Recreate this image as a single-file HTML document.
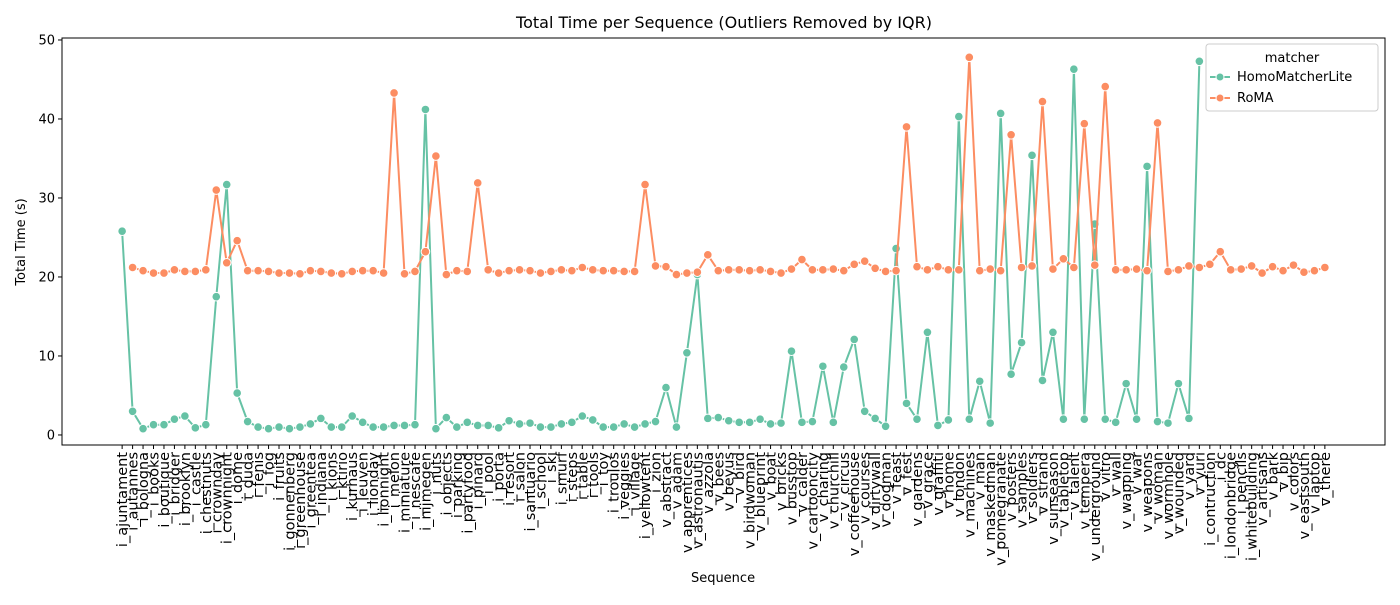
<!DOCTYPE html>
<html><head><meta charset="utf-8"><style>
body{margin:0;background:#fff;}
svg text{font-family:"DejaVu Sans","Liberation Sans",sans-serif;fill:#000;}
</style></head><body>
<svg id="chart" width="1400" height="600" xmlns="http://www.w3.org/2000/svg">
<rect width="1400" height="600" fill="#fff"/>
<text x="724" y="28" font-size="16" text-anchor="middle">Total Time per Sequence (Outliers Removed by IQR)</text>
<text x="723" y="582" font-size="13" text-anchor="middle">Sequence</text>
<text x="0" y="0" font-size="13" text-anchor="middle" transform="translate(25,242) rotate(-90)">Total Time (s)</text>
<g id="grid"></g>
<g id="series"></g>
<rect x="62" y="38" width="1323" height="407" fill="none" stroke="#000" stroke-width="1"/>
<g>
<rect x="1206" y="44" width="172" height="67" rx="3" fill="#fff" fill-opacity="0.8" stroke="#ccc"/>
<text x="1292" y="62" font-size="13" text-anchor="middle">matcher</text>
<g>
<line x1="1210" y1="77" x2="1230" y2="77" stroke="#66c2a5" stroke-width="2"/>
<circle cx="1220" cy="77" r="4" fill="#66c2a5" stroke="#fff"/>
<text x="1237" y="81" font-size="13">HomoMatcherLite</text></g>
<g>
<line x1="1210" y1="98" x2="1230" y2="98" stroke="#fc8d62" stroke-width="2"/>
<circle cx="1220" cy="98" r="4" fill="#fc8d62" stroke="#fff"/>
<text x="1237" y="102" font-size="13">RoMA</text></g>
</g>
</svg>
<script>
const categories=["i_ajuntament","i_autannes","i_bologna","i_books","i_boutique","i_bridger","i_brooklyn","i_castle","i_chestnuts","i_crownday","i_crownnight","i_dome","i_duda","i_fenis","i_fog","i_fruits","i_gonnenberg","i_greenhouse","i_greentea","i_indiana","i_kions","i_ktirio","i_kurhaus","i_leuven","i_lionday","i_lionnight","i_melon","i_miniature","i_nescafe","i_nijmegen","i_nuts","i_objects","i_parking","i_partyfood","i_pinard","i_pool","i_porta","i_resort","i_salon","i_santuario","i_school","i_ski","i_smurf","i_steps","i_table","i_tools","i_toy","i_troulos","i_veggies","i_village","i_yellowtent","i_zion","v_abstract","v_adam","v_apprentices","v_astronautis","v_azzola","v_bees","v_beyus","v_bird","v_birdwoman","v_blueprint","v_boat","v_bricks","v_busstop","v_calder","v_cartooncity","v_charing","v_churchill","v_circus","v_coffeehouse","v_courses","v_dirtywall","v_dogman","v_feast","v_fest","v_gardens","v_grace","v_graffiti","v_home","v_london","v_machines","v_man","v_maskedman","v_pomegranate","v_posters","v_samples","v_soldiers","v_strand","v_sunseason","v_tabletop","v_talent","v_tempera","v_underground","v_vitro","v_wall","v_wapping","v_war","v_weapons","v_woman","v_wormhole","v_wounded","v_yard","v_yuri","i_contruction","i_dc","i_londonbridge","i_pencils","i_whitebuilding","v_artisans","v_bark","v_bip","v_colors","v_eastsouth","v_laptop","v_there"];
const homoValues=[25.8,3.0,0.8,1.3,1.3,2.0,2.4,0.9,1.3,17.5,31.7,5.3,1.7,1.0,0.8,1.0,0.8,1.0,1.4,2.1,1.0,1.0,2.4,1.6,1.0,1.0,1.2,1.2,1.3,41.2,0.8,2.2,1.0,1.6,1.2,1.2,0.9,1.8,1.4,1.5,1.0,1.0,1.4,1.6,2.4,1.9,1.0,1.0,1.4,1.0,1.4,1.7,6.0,1.0,10.4,20.3,2.1,2.2,1.8,1.6,1.6,2.0,1.4,1.5,10.6,1.6,1.7,8.7,1.6,8.6,12.1,3.0,2.1,1.1,23.6,4.0,2.0,13.0,1.2,1.9,40.3,2.0,6.8,1.5,40.7,7.7,11.7,35.4,6.9,13.0,2.0,46.3,2.0,26.7,2.0,1.6,6.5,2.0,34.0,1.7,1.5,6.5,2.1,47.3,null,null,null,null,null,null,null,null,null,null,null,null];
const romaValues=[null,21.2,20.8,20.5,20.5,20.9,20.7,20.7,20.9,31.0,21.8,24.6,20.8,20.8,20.7,20.5,20.5,20.4,20.8,20.7,20.5,20.4,20.7,20.8,20.8,20.5,43.3,20.4,20.7,23.2,35.3,20.3,20.8,20.7,31.9,20.9,20.5,20.8,20.9,20.8,20.5,20.7,20.9,20.8,21.2,20.9,20.8,20.8,20.7,20.7,31.7,21.4,21.3,20.3,20.5,20.6,22.8,20.8,20.9,20.9,20.8,20.9,20.7,20.5,21.0,22.2,20.9,20.9,21.0,20.8,21.6,22.0,21.1,20.7,20.8,39.0,21.3,20.9,21.3,20.9,20.9,47.8,20.8,21.0,20.8,38.0,21.2,21.4,42.2,21.0,22.3,21.2,39.4,21.5,44.1,20.9,20.9,21.0,20.8,39.5,20.7,20.9,21.4,21.2,21.6,23.2,20.9,21.0,21.4,20.5,21.3,20.8,21.5,20.6,20.8,21.2];
const yTicks=[0,10,20,30,40,50];

const NS="http://www.w3.org/2000/svg";
const grid=document.getElementById('grid');
const ser=document.getElementById('series');
const X0=62,X1=1385,Y0=445,Y1=38;
const n=categories.length;
const xmin=-0.05*(n-1), xmax=(n-1)*1.05;
function xs(i){return X0+(i-xmin)/(xmax-xmin)*(X1-X0);}
const ymin=-1.27,ymax=50.25;
function ys(v){return Y0-(v-ymin)/(ymax-ymin)*(Y0-Y1);}
function mk(tag,attrs){const e=document.createElementNS(NS,tag);for(const k in attrs)e.setAttribute(k,attrs[k]);return e;}

yTicks.forEach(t=>{
  const l=mk('line',{x1:X0-4,x2:X0,y1:ys(t),y2:ys(t),stroke:'#000'});
  
  
  grid.appendChild(l);
  const tx=mk('text',{x:X0-7,y:ys(t)+4.5,'font-size':13,'text-anchor':'end'});
  
  
  tx.textContent=t;grid.appendChild(tx);
});
categories.forEach((c,i)=>{
  const x=xs(i);
  const l=mk('line',{x1:x,x2:x,y1:Y0,y2:Y0+4,stroke:'#000'});
  
  
  grid.appendChild(l);
  const tx=mk('text',{x:0,y:0,'font-size':14.5,'text-anchor':'end',transform:`translate(${x+5},${Y0+7}) rotate(-90)`});
  
  
  tx.textContent=c;grid.appendChild(tx);
});
function drawSeries(vals,color,name){
  let d='';let pen=false;
  vals.forEach((v,i)=>{if(v==null){pen=false;return;}d+=(pen?'L':'M')+xs(i).toFixed(1)+','+ys(v).toFixed(1);pen=true;});
  const p=mk('path',{d:d,fill:'none',stroke:color,'stroke-width':2,'stroke-linejoin':'round'});
  
  
  ser.appendChild(p);
  vals.forEach((v,i)=>{if(v==null)return;
    const c=mk('circle',{cx:xs(i),cy:ys(v),r:4.3,fill:color,stroke:'#fff','stroke-width':1});
    
    
    ser.appendChild(c);});
}
drawSeries(homoValues,'#66c2a5','homomatcherlite');
drawSeries(romaValues,'#fc8d62','roma');
</script>
</body></html>
